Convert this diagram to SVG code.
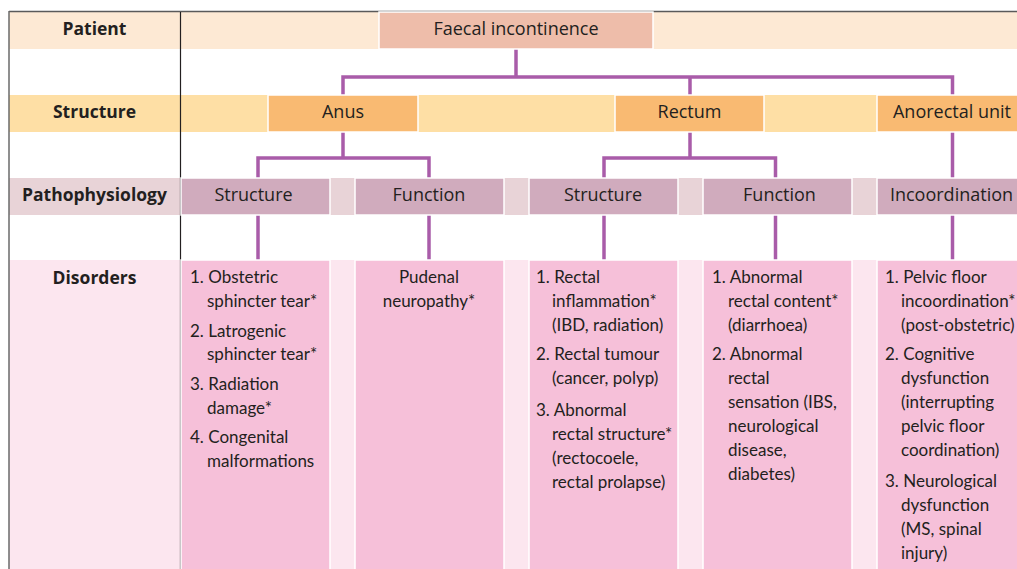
<svg xmlns="http://www.w3.org/2000/svg" width="1017" height="569" viewBox="0 0 1017 569">
  <style>
    text { font-family: "Open Sans", "Noto Sans", "DejaVu Sans", sans-serif; font-size: 18px; fill: #231f20; }
    .lbl { font-weight: bold; font-size: 17.5px; text-anchor: middle; }
    .mid { text-anchor: middle; }
    .item { font-family: Lato, "Open Sans", sans-serif; font-size: 17px; }
    .box { stroke: #ffffff; stroke-width: 1.5; }
    .patient { fill: #eebdaa; }
    .struct { fill: #f9ba72; }
    .patho { fill: #d0abbd; }
    .dis { fill: #f6c0d9; }
    .link { fill: none; stroke: #a95ca9; stroke-width: 3.5; stroke-linejoin: miter; stroke-linecap: butt; }
  </style>

  <rect x="0" y="0" width="1017" height="569" fill="#ffffff"/>

  <!-- row bands -->
  <g id="bands">
    <rect x="9" y="12" width="1008" height="37" fill="#fde9d4"/>
    <rect x="9" y="95" width="1008" height="37" fill="#fedfa5"/>
    <rect x="9" y="178" width="1008" height="37" fill="#e8d3d7"/>
    <rect x="9" y="260" width="1008" height="309" fill="#fce6ef"/>
  </g>

  <!-- frame -->
  <g id="frame">
    <line x1="9" y1="11.5" x2="1017" y2="11.5" stroke="#5a5a5a" stroke-width="1.5"/>
    <line x1="9" y1="11" x2="9" y2="569" stroke="#6a6a6a" stroke-width="1.5"/>
    <line x1="180.5" y1="12" x2="180.5" y2="569" stroke="#231f20" stroke-width="1.2"/>
  </g>

  <!-- row labels -->
  <g id="row-labels">
    <text class="lbl" x="94.5" y="35">Patient</text>
    <text class="lbl" x="94.5" y="118">Structure</text>
    <text class="lbl" x="94.5" y="201">Pathophysiology</text>
    <text class="lbl" x="94.5" y="284">Disorders</text>
  </g>

  <!-- connectors -->
  <g id="connectors">
    <path class="link" d="M516,49 V77"/>
    <path class="link" d="M343,95 V77 H952.5 V95"/>
    <path class="link" d="M690,77 V95"/>
    <path class="link" d="M343,132 V158"/>
    <path class="link" d="M258,178 V158 H429 V178"/>
    <path class="link" d="M690,132 V158"/>
    <path class="link" d="M604,178 V158 H775.5 V178"/>
    <path class="link" d="M952.5,132 V178"/>
    <path class="link" d="M258,215 V260"/>
    <path class="link" d="M429,215 V260"/>
    <path class="link" d="M604,215 V260"/>
    <path class="link" d="M775.5,215 V260"/>
    <path class="link" d="M952.5,215 V260"/>
  </g>

  <!-- patient level -->
  <g id="faecal-incontinence">
    <rect class="box patient" x="379" y="12" width="274" height="37"/>
    <text class="mid" x="516" y="35">Faecal incontinence</text>
  </g>

  <!-- structure level -->
  <g id="anus">
    <rect class="box struct" x="268" y="95" width="150" height="37"/>
    <text class="mid" x="343" y="118">Anus</text>
  </g>
  <g id="rectum">
    <rect class="box struct" x="615" y="95" width="149" height="37"/>
    <text class="mid" x="689.5" y="118">Rectum</text>
  </g>
  <g id="anorectal-unit">
    <rect class="box struct" x="877" y="95" width="150" height="37"/>
    <text class="mid" x="952" y="118">Anorectal unit</text>
  </g>

  <!-- pathophysiology level -->
  <g id="anus-structure">
    <rect class="box patho" x="181" y="178" width="149" height="37"/>
    <text class="mid" x="253.5" y="201">Structure</text>
  </g>
  <g id="anus-function">
    <rect class="box patho" x="355" y="178" width="149" height="37"/>
    <text class="mid" x="429" y="201">Function</text>
  </g>
  <g id="rectum-structure">
    <rect class="box patho" x="529" y="178" width="149" height="37"/>
    <text class="mid" x="603" y="201">Structure</text>
  </g>
  <g id="rectum-function">
    <rect class="box patho" x="703" y="178" width="149" height="37"/>
    <text class="mid" x="779.5" y="201">Function</text>
  </g>
  <g id="incoordination">
    <rect class="box patho" x="877" y="178" width="150" height="37"/>
    <text class="mid" x="951.5" y="201">Incoordination</text>
  </g>

  <!-- disorders level -->
  <g id="anus-structure-disorders" class="item">
    <rect class="box dis" x="181" y="260" width="149" height="320"/>
    <text class="item" x="190" y="283">1. Obstetric</text>
    <text class="item" x="207" y="307">sphincter tear*</text>
    <text class="item" x="190" y="337">2. Latrogenic</text>
    <text class="item" x="207" y="360">sphincter tear*</text>
    <text class="item" x="190" y="390">3. Radiation</text>
    <text class="item" x="207" y="414">damage*</text>
    <text class="item" x="190" y="443">4. Congenital</text>
    <text class="item" x="207" y="467">malformations</text>
  </g>
  <g id="anus-function-disorders">
    <rect class="box dis" x="355" y="260" width="149" height="320"/>
    <text class="item mid" x="429" y="283">Pudenal</text>
    <text class="item mid" x="429" y="307">neuropathy*</text>
  </g>
  <g id="rectum-structure-disorders">
    <rect class="box dis" x="529" y="260" width="149" height="320"/>
    <text class="item" x="536" y="283">1. Rectal</text>
    <text class="item" x="552" y="307">inflammation*</text>
    <text class="item" x="552" y="331">(IBD, radiation)</text>
    <text class="item" x="536" y="360">2. Rectal tumour</text>
    <text class="item" x="552" y="384">(cancer, polyp)</text>
    <text class="item" x="536" y="416">3. Abnormal</text>
    <text class="item" x="552" y="440">rectal structure*</text>
    <text class="item" x="552" y="464">(rectocoele,</text>
    <text class="item" x="552" y="488">rectal prolapse)</text>
  </g>
  <g id="rectum-function-disorders">
    <rect class="box dis" x="703" y="260" width="149" height="320"/>
    <text class="item" x="712" y="283">1. Abnormal</text>
    <text class="item" x="728" y="307">rectal content*</text>
    <text class="item" x="728" y="331">(diarrhoea)</text>
    <text class="item" x="712" y="360">2. Abnormal</text>
    <text class="item" x="728" y="384">rectal</text>
    <text class="item" x="728" y="408">sensation (IBS,</text>
    <text class="item" x="728" y="432">neurological</text>
    <text class="item" x="728" y="456">disease,</text>
    <text class="item" x="728" y="480">diabetes)</text>
  </g>
  <g id="incoordination-disorders">
    <rect class="box dis" x="877" y="260" width="150" height="320"/>
    <text class="item" x="885" y="283">1. Pelvic floor</text>
    <text class="item" x="901" y="307">incoordination*</text>
    <text class="item" x="901" y="331">(post-obstetric)</text>
    <text class="item" x="885" y="360">2. Cognitive</text>
    <text class="item" x="901" y="384">dysfunction</text>
    <text class="item" x="901" y="408">(interrupting</text>
    <text class="item" x="901" y="432">pelvic floor</text>
    <text class="item" x="901" y="456">coordination)</text>
    <text class="item" x="885" y="487">3. Neurological</text>
    <text class="item" x="901" y="511">dysfunction</text>
    <text class="item" x="901" y="535">(MS, spinal</text>
    <text class="item" x="901" y="559">injury)</text>
  </g>
</svg>
